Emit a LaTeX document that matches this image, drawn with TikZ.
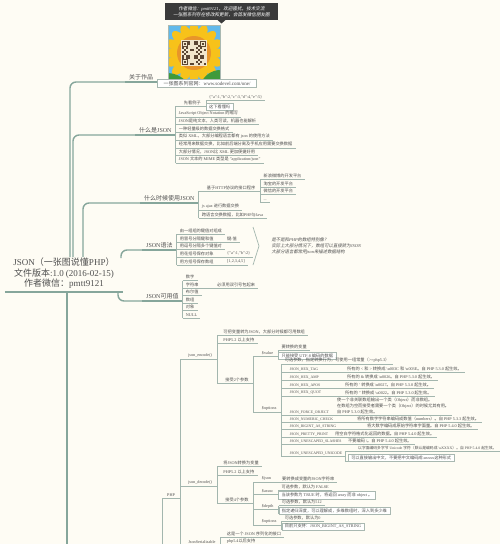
\documentclass[tikz,border=0pt]{standalone}
\usepackage{fontspec}
\setmainfont{Liberation Serif}
\newfontfamily\cjkfam{Noto Sans CJK SC}
\newfontfamily\cjkslfam[FakeSlant=0.2]{Noto Sans CJK SC}
\def\cjkcur{\cjkfam}
\def\latcur{\rmfamily}
\XeTeXinterchartokenstate=1
\newXeTeXintercharclass\cjkcls
\newcount\cjkcc
\cjkcc="2E80
\loop\XeTeXcharclass\cjkcc=\cjkcls \advance\cjkcc by 1 \ifnum\cjkcc<"A000 \repeat
\cjkcc="FF00
\loop\XeTeXcharclass\cjkcc=\cjkcls \advance\cjkcc by 1 \ifnum\cjkcc<"FFF0 \repeat
\XeTeXinterchartoks 0 \cjkcls = {\cjkcur}
\XeTeXinterchartoks 4095 \cjkcls = {\cjkcur}
\XeTeXinterchartoks \cjkcls 0 = {\latcur}
\XeTeXinterchartoks \cjkcls 4095 = {\latcur}
\definecolor{bgc}{HTML}{FEFCF4}
\definecolor{trunkc}{HTML}{86A69B}
\definecolor{linec}{HTML}{A3B6AE}
\definecolor{txtc}{HTML}{4F4F4F}
\definecolor{boxc}{HTML}{A9B8B1}
\definecolor{hdrc}{HTML}{3B3B3B}
\definecolor{skyc}{HTML}{62B9EA}
\definecolor{petalc}{HTML}{F7C21A}
\definecolor{orangec}{HTML}{E8952A}
\definecolor{qrbg}{HTML}{F1E6CC}
\definecolor{qrdark}{HTML}{5B4634}
\definecolor{leafc}{HTML}{3F9A3B}
\newcommand\cst{\fontsize{3.8}{4.6}\selectfont}
\tikzset{
  trunk/.style={draw=trunkc, line width=2.3pt},
  mainconn/.style={draw=trunkc, line width=1.4pt, rounded corners=6pt},
  mainul/.style={draw=trunkc, line width=1.8pt},
  conn/.style={draw=linec, line width=0.6pt},
  topic/.style={anchor=south west, font=\fontsize{6}{7}\selectfont, text=txtc, inner xsep=4pt, inner ysep=1.5pt},
  item/.style={anchor=south west, font=\fontsize{4.2}{5.2}\selectfont, text=txtc, inner xsep=3pt, inner ysep=1.3pt},
  boxed/.style={item, draw=boxc, fill=white, line width=0.5pt},
}
\newcommand\kid[5][]{%
  \node[item,#1] (#2) at (#3.south east |- 0,#4) {#5};
  \draw[conn] (#3.south east) |- (#2.south west);
  \draw[conn] (#2.south west) -- (#2.south east);}
\newcommand\kidbox[5][]{%
  \node[boxed,#1] (#2) at (#3.south east |- 0,#4) {#5};
  \draw[conn] (#3.south east) |- (#2.south west);}
\newcommand\kidat[6][]{%
  \node[item,#1] (#2) at (#4,#5) {#6};
  \draw[conn] (#3.south east) |- (#2.south west);
  \draw[conn] (#2.south west) -- (#2.south east);}
\newcommand\kidboxat[6][]{%
  \node[boxed,#1] (#2) at (#4,#5) {#6};
  \draw[conn] (#3.south east) |- (#2.south west);}
\begin{document}
\begin{tikzpicture}[x=1pt,y=-1pt]
\useasboundingbox (0,0) rectangle (500,544);
\fill[bgc] (0,0) rectangle (500,544);
\clip (0,0) rectangle (500,544);

% ---------- header and picture ----------
\node[fill=hdrc, text=white, font=\let\cjkcur\cjkslfam\itshape\fontsize{4.6}{6.2}\selectfont, align=center,
      inner xsep=8pt, inner ysep=3pt, anchor=north west] (hdr) at (165,3)
  {作者微信：pmtt9121，欢迎骚扰，技术交流\\一张图系列存在修改和更新，会首发微信朋友圈};
\fill[hdrc] ([xshift=-4pt]hdr.south) -- ([xshift=4pt]hdr.south) -- ([yshift=-3.5pt]hdr.south) -- cycle;
\begin{scope}
  \clip (168,25) rectangle (220,82);
  \fill[skyc] (168,25) rectangle (220,82);
  \foreach \a in {0,22.5,...,337.5}
    \fill[petalc, rotate around={\a:(194,53)}] (194,33) ellipse (5 and 10);
  \fill[orangec] (194,53) circle (17);
  \fill[qrbg] (181,40) rectangle (207,66);
  \foreach \i in {0,...,11}{\foreach \j in {0,...,11}{
    \pgfmathtruncatemacro\qv{mod(\i*\i*3+\j*\j*5+\i*\j*7+\i+2*\j,7)}
    \ifnum\qv<3 \fill[qrdark] ({182+2*\i},{41+2*\j}) rectangle ++(2,2);\fi
  }}
  \foreach \qx/\qy in {182/41,200/41,182/59}{
    \fill[qrdark] (\qx,\qy) rectangle ++(6,6);
    \fill[qrbg] ({\qx+1},{\qy+1}) rectangle ++(4,4);
    \fill[qrdark] ({\qx+2},{\qy+2}) rectangle ++(2,2);
  }
  \fill[leafc, rotate around={-25:(176,80)}] (176,80) ellipse (12 and 5);
  \fill[leafc, rotate around={30:(213,78)}] (213,78) ellipse (12 and 6);
\end{scope}
\draw[boxc, line width=0.4pt] (168,25) rectangle (220,82);

% ---------- central topic ----------
\node[anchor=south, font=\fontsize{9}{10.8}\selectfont, align=center, text=txtc,
      minimum width=118pt, inner ysep=3pt] (root) at (64,292)
  {JSON（一张图说懂PHP）\\文件版本:1.0 (2016-02-15)\\作者微信：pmtt9121};
\draw[trunk] (root.south west) -- (root.south east);
\coordinate (rA) at (70,257);
\coordinate (rB) at (73,257);
\coordinate (rC) at (83,257);
\coordinate (rD) at (121,258);
\coordinate (rE) at (118,292);
\coordinate (rT) at (67,292);
\coordinate (rTend) at (67,546);
\draw[trunk] (rT) -- (rTend);

% ---------- 关于作品 ----------
\node[topic] (about) at (125,82) {关于作品};
\draw[mainconn] (rA) |- (about.south west);
\draw[mainul] (about.south west) -- (about.south east);
\node[boxed, font=\fontsize{5}{6}\selectfont, inner xsep=6pt] (site) at (about.south east |- 0,87) {一张图系列官网：www.sodevel.com/one/};
\draw[conn] (about.south east) |- (site.south west);

% ---------- 什么是JSON ----------
\node[topic] (what) at (135,135) {什么是JSON};
\draw[mainconn] (rB) |- (what.south west);
\draw[mainul] (what.south west) -- (what.south east);
\kid[inner xsep=5pt, xshift=3pt]{w0}{what}{106}{先看例子}
\kid{w0a}{w0}{100.5}{\{"a":1,"b":2,"c":3,"d":4,"e":5\}}
\kidbox{w0b}{w0}{110}{这下看懂吗}
\kid{w1}{what}{117}{JavaScript Object Notation 的缩写}
\kid{w2}{what}{124.7}{JSON是纯文本，人类可读，机器也能解析}
\kid{w3}{what}{132.4}{一种轻量级的数据交换格式}
\kid{w4}{what}{140.1}{类似 XML，大部分编程语言都有 json 的使用方法}
\kid{w5}{what}{147.8}{经常用来数据交换，比如前后端分离及手机应用需要交换数据}
\kid{w6}{what}{155.5}{大部分情况，JSON比 XML 更加便捷好用}
\kid{w7}{what}{163.2}{JSON 文本的 MIME 类型是 "application/json"}

% ---------- 什么时候使用JSON ----------
\node[topic] (when) at (140,203) {什么时候使用JSON};
\draw[mainconn] (rC) |- (when.south west);
\draw[mainul] (when.south west) -- (when.south east);
\kid[inner xsep=5pt, xshift=3pt]{h1}{when}{191}{基于HTTP协议的接口程序}
\kid{h1a}{h1}{179}{新浪微博的开发平台}
\kid{h1b}{h1}{187}{淘宝的开发平台}
\kid{h1c}{h1}{194.5}{微信的开发平台}
\kid{h1d}{h1}{202}{...}
\kid{h2}{when}{210}{js ajax 进行数据交换}
\kid{h3}{when}{218}{跨语言交换数据，比如PHP与Java}

% ---------- JSON语法 ----------
\node[topic] (syn) at (142,250) {JSON语法};
\draw[mainconn] (rD) |- (syn.south west);
\draw[mainul] (syn.south west) -- (syn.south east);
\kid{s1}{syn}{234}{由一组组的键值对组成}
\kid{s2}{syn}{242}{用冒号分隔键和值}
\kidat{s2a}{s2}{224}{242}{键:值}
\kid{s3}{syn}{249.5}{用逗号分隔多个键值对}
\kid{s4}{syn}{257}{用花括号保存对象}
\kidat{s4a}{s4}{224}{257}{\{"a":1,"b":2\}}
\kid{s5}{syn}{265}{用方括号保存数组}
\kidat{s5a}{s5}{224}{265}{[1,2,3,4,5]}
\coordinate (sb1) at (253,227);
\coordinate (sb2) at (259,246);
\coordinate (sb3) at (253,265);
\draw[conn, line width=0.7pt] (sb1) -- (sb2) -- (sb3);
\node[anchor=west, font=\let\cjkcur\cjkslfam\itshape\fontsize{4.4}{5.9}\selectfont, text=txtc, align=left] (note) at ([xshift=9pt]sb2)
  {是不是和PHP的数组特别像？\\实际上大部分情况下，数组可以直接转为JSON\\大部分语言都常用json来描述数据结构};

% ---------- JSON可用值 ----------
\node[topic] (val) at (142,301) {JSON可用值};
\draw[mainconn] (rE) |- (val.south west);
\draw[mainul] (val.south west) -- (val.south east);
\kid{v1}{val}{280.5}{数字}
\kid{v2}{val}{288}{字符串}
\kidat{v2a}{v2}{214}{288}{必须用双引号包起来}
\kid{v3}{val}{295.5}{布尔值}
\kid{v4}{val}{303}{数组}
\kid{v5}{val}{310.5}{对象}
\kid{v6}{val}{318}{NULL}

% ---------- PHP ----------
\coordinate (phpin) at (162,546);
\node[item, inner xsep=5pt] (php) at (162,498) {PHP};
\draw[conn] (phpin) -- (php.south west);
\draw[conn] (php.south west) -- (php.south east);

\kid[inner xsep=5pt, xshift=3pt]{enc}{php}{359}{json\_encode()}
\kid[xshift=3pt]{e1}{enc}{335}{可把变量转为JSON，大部分时候都可用数组}
\kid[xshift=3pt]{e2}{enc}{343}{PHP5.2 以上支持}
\kid[inner xsep=5pt, xshift=3pt]{e3}{enc}{383}{接受2个参数}
\kid[inner xsep=5pt, xshift=3pt]{ev}{e3}{356}{\$value}
\kid{ev1}{ev}{350}{要转换的变量}
\kidbox{ev2}{ev}{359}{只能接受 UTF-8 编码的数据}
\kid[inner xsep=5pt, xshift=3pt]{eo}{e3}{412}{\$options}
\kid{eo0}{eo}{364}{可选参数，指定转换行为，可使用一组常量（>=php5.3）}
\kid[xshift=5pt]{c1}{eo}{372}{\cst JSON\_HEX\_TAG}
\kidat{c1d}{c1}{344}{372}{所有的 < 和 > 转换成 \textbackslash u003C 和 \textbackslash u003E。自 PHP 5.3.0 起生效。}
\kid[xshift=5pt]{c2}{eo}{380}{\cst JSON\_HEX\_AMP}
\kidat{c2d}{c2}{344}{380}{所有的 \& 转换成 \textbackslash u0026。自 PHP 5.3.0 起生效。}
\kid[xshift=5pt]{c3}{eo}{388}{\cst JSON\_HEX\_APOS}
\kidat{c3d}{c3}{342}{388}{所有的 ' 转换成 \textbackslash u0027。自 PHP 5.3.0 起生效。}
\kid[xshift=5pt]{c4}{eo}{396}{\cst JSON\_HEX\_QUOT}
\kidat{c4d}{c4}{342}{396}{所有的 " 转换成 \textbackslash u0022。自 PHP 5.3.0 起生效。}
\kid[xshift=5pt]{c5}{eo}{415}{\cst JSON\_FORCE\_OBJECT}
\kidat[align=left, font=\fontsize{4.2}{5.8}\selectfont]{c5d}{c5}{334}{415}
  {使一个非关联数组输出一个类（Object）而非数组。\\在数组为空而接受者需要一个类（Object）的时候尤其有用。\\自 PHP 5.3.0 起生效。}
\kid[xshift=5pt]{c6}{eo}{422}{\cst JSON\_NUMERIC\_CHECK}
\kidat{c6d}{c6}{354}{422}{将所有数字字符串编码成数值（numbers）。自 PHP 5.3.3 起生效。}
\kid[xshift=5pt]{c7}{eo}{429.5}{\cst JSON\_BIGINT\_AS\_STRING}
\kidat{c7d}{c7}{364}{429.5}{将大数字编码成原始字符串字面量。自 PHP 5.4.0 起生效。}
\kid[xshift=5pt]{c8}{eo}{437}{\cst JSON\_PRETTY\_PRINT}
\kidat{c8d}{c8}{332}{437}{用空白字符格式化返回的数据。自 PHP 5.4.0 起生效。}
\kid[xshift=5pt]{c9}{eo}{444.5}{\cst JSON\_UNESCAPED\_SLASHES}
\kidat{c9d}{c9}{345}{444.5}{不要编码 /。自 PHP 5.4.0 起生效。}
\kid[xshift=5pt]{c10}{eo}{456}{\cst JSON\_UNESCAPED\_UNICODE}
\kidat[font=\fontsize{3.8}{4.6}\selectfont]{u1}{c10}{355}{451}{以字面编码多字节 Unicode 字符（默认是编码成 \textbackslash uXXXX）。自 PHP 5.4.0 起生效。}
\kidboxat{u2}{c10}{348}{461}{可以直接输出中文，不要把中文编码成\textbackslash uxxxx这种形式}

\kid[inner xsep=5pt, xshift=3pt]{dec}{php}{486}{json\_decode()}
\kid[xshift=3pt]{d1}{dec}{466}{将JSON转换为变量}
\kid[xshift=3pt]{d2}{dec}{475}{PHP5.2 以上支持}
\kid[inner xsep=5pt, xshift=3pt]{d3}{dec}{503}{接受4个参数}
\kid[inner xsep=5pt, xshift=3pt]{dj}{d3}{482}{\$json}
\kidat{dj1}{dj}{279}{482}{要转换成变量的JSON字符串}
\kid[inner xsep=5pt, xshift=3pt]{da}{d3}{494}{\$assoc}
\kid{da1}{da}{490}{可选参数，默认为 FALSE}
\kidbox{da2}{da}{499}{当该参数为 TRUE 时，将返回 array 而非 object 。}
\kid[inner xsep=5pt, xshift=3pt]{dd}{d3}{509.5}{\$depth}
\kid{dd1}{dd}{505.5}{可选参数，默认为512}
\kidbox{dd2}{dd}{514}{指定递归深度，可以理解成，多维数组时，深入到多少维}
\kid[inner xsep=5pt, xshift=3pt]{dop}{d3}{525}{\$options}
\kid{dop1}{dop}{521}{可选参数，默认为0}
\kidbox{dop2}{dop}{530}{目前只支持：JSON\_BIGINT\_AS\_STRING}

\kid[inner xsep=5pt, xshift=3pt]{ser}{php}{545}{JsonSerializable}
\kid[xshift=3pt]{ser1}{ser}{537}{这是一个 JSON 序列化的接口}
\kid[xshift=3pt]{ser2}{ser}{545}{php5.4以后支持}
\end{tikzpicture}
\end{document}
